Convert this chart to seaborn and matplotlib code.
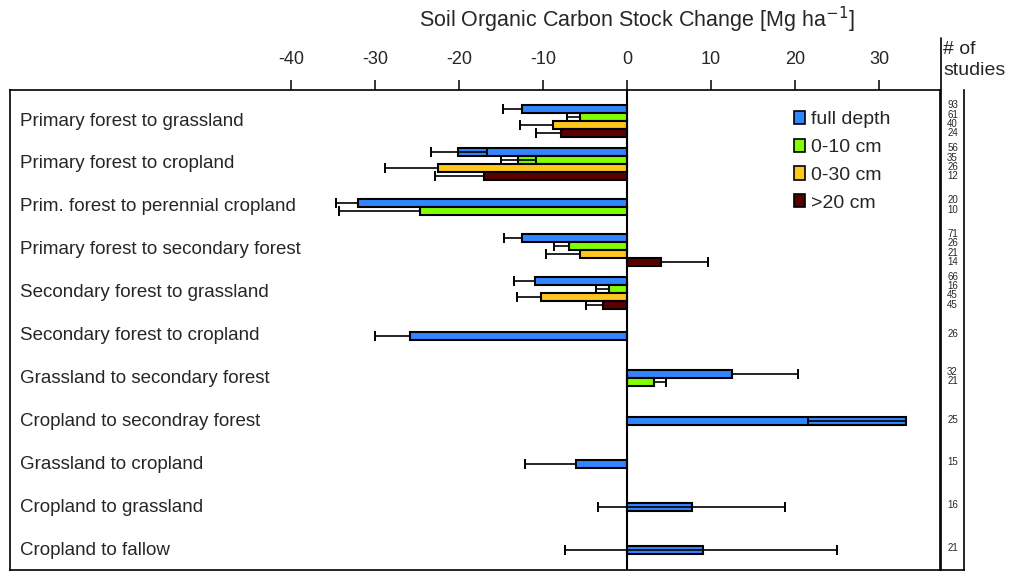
import numpy as np
import pandas as pd
import matplotlib
matplotlib.use("Agg")
import matplotlib.pyplot as plt
from matplotlib.patches import Patch
from matplotlib.lines import Line2D
from matplotlib.transforms import blended_transform_factory
import seaborn as sns

nan = np.nan

categories = ["Primary forest to grassland", "Primary forest to cropland",
              "Prim. forest to perennial cropland", "Primary forest to secondary forest",
              "Secondary forest to grassland", "Secondary forest to cropland",
              "Grassland to secondary forest", "Cropland to secondray forest",
              "Grassland to cropland", "Cropland to grassland", "Cropland to fallow"]
depths = ["full depth", "0-10 cm", "0-30 cm", ">20 cm"]
colors = ["#3385FF", "#80FF00", "#FFC61E", "#5A0000"]

# stock change [Mg ha-1]
full_depth = [-12.5, -20.1, -32.0, -12.5, -11.0, -25.8, 12.5, 33.2, -6.1, 7.7, 9.0]
cm_0_10 = [-5.6, -13.0, -24.7, -6.9, -2.1, nan, 3.2, nan, nan, nan, nan]
cm_0_30 = [-8.8, -22.5, nan, -5.6, -10.2, nan, nan, nan, nan, nan, nan]
cm_gt_20 = [-7.8, -17.0, nan, 4.0, -2.9, nan, nan, nan, nan, nan, nan]

# error bar extents (towards negative / towards positive)
full_lo = [2.3, 3.2, 2.6, 2.1, 2.5, 4.2, 0, 11.7, 6.0, 11.2, 16.4]
full_hi = [0, 3.4, 0, 0, 0, 0, 7.8, 0, 0, 11.1, 16.0]
cm_0_10_lo = [1.5, 2.0, 9.6, 1.8, 1.6, nan, 0, nan, nan, nan, nan]
cm_0_10_hi = [0, 2.2, 0, 0, 0, nan, 1.5, nan, nan, nan, nan]
cm_0_30_lo = [3.9, 6.3, nan, 4.0, 2.9, nan, nan, nan, nan, nan, nan]
cm_0_30_hi = [0, 0, nan, 0, 0, nan, nan, nan, nan, nan, nan]
cm_gt_20_lo = [3.0, 5.8, nan, 0, 2.0, nan, nan, nan, nan, nan, nan]
cm_gt_20_hi = [0, 0, nan, 5.6, 0, nan, nan, nan, nan, nan, nan]

# number of studies
n_full = [93, 56, 20, 71, 66, 26, 32, 25, 15, 16, 21]
n_0_10 = [61, 35, 10, 26, 16, nan, 21, nan, nan, nan, nan]
n_0_30 = [40, 26, nan, 21, 45, nan, nan, nan, nan, nan, nan]
n_gt_20 = [24, 12, nan, 14, 45, nan, nan, nan, nan, nan, nan]

values = [full_depth, cm_0_10, cm_0_30, cm_gt_20]
err_lo = [full_lo, cm_0_10_lo, cm_0_30_lo, cm_gt_20_lo]
err_hi = [full_hi, cm_0_10_hi, cm_0_30_hi, cm_gt_20_hi]
counts = [n_full, n_0_10, n_0_30, n_gt_20]

bar_h = 0.1865
rows = []
for i, cat in enumerate(categories):
    present = [k for k in range(4) if not np.isnan(values[k][i])]
    for j, k in enumerate(present):
        off = j - (len(present) - 1) / 2
        rows.append(dict(category=cat, depth=depths[k], value=values[k][i],
                         lo=err_lo[k][i], hi=err_hi[k][i], n=int(counts[k][i]),
                         pos=round(i + off * bar_h, 5),
                         npos=i + off * bar_h * 1.15 - 0.04))
df = pd.DataFrame(rows)

sns.set_style("white")
plt.rcParams["font.family"] = ["Liberation Sans", "DejaVu Sans"]
plt.rcParams["axes.unicode_minus"] = False

fig = plt.figure(figsize=(10.16, 5.72), dpi=100)
ax = fig.add_axes([10 / 1016, 2 / 572, 930 / 1016, 480 / 572])

sns.barplot(data=df, x="value", y="pos", hue="depth", hue_order=depths,
            palette=dict(zip(depths, colors)), orient="y", native_scale=True,
            dodge=False, width=1.0, edgecolor="black", linewidth=1.5,
            saturation=1, errorbar=None, legend=False, ax=ax, zorder=2)

# error bars, drawn only on the sides that have an extent
lo = df[df.lo > 0]
hi = df[df.hi > 0]
ax.hlines(lo.pos, lo.value - lo.lo, lo.value, color="black", lw=1.2, zorder=3)
ax.plot(lo.value - lo.lo, lo.pos, ls="none", marker="|", ms=7.7, mew=1.4, color="black", zorder=3)
ax.hlines(hi.pos, hi.value, hi.value + hi.hi, color="black", lw=1.2, zorder=3)
ax.plot(hi.value + hi.hi, hi.pos, ls="none", marker="|", ms=7.7, mew=1.4, color="black", zorder=3)

ax.axvline(0, color="black", lw=1.5, zorder=4)

ax.set_xlim(-73.45, 37.26)
ylim = (10.466, -0.723)
ax.set_ylim(*ylim)
ax.set_xlabel("")
ax.set_ylabel("")
ax.set_yticks([])
ax.set_xticks(range(-40, 31, 10))
ax.tick_params(axis="x", top=True, bottom=False, labeltop=True, labelbottom=False,
               direction="out", length=7, width=1.1, pad=9, labelsize=13, color="black")
for s in ax.spines.values():
    s.set_color("black")
    s.set_linewidth(1.2)

label_tr = blended_transform_factory(ax.transAxes, ax.transData)
for i, cat in enumerate(categories):
    ax.text(0.011, i, cat, transform=label_tr, ha="left", va="center", fontsize=13.5)

handles = [Patch(facecolor=c, edgecolor="black", linewidth=1.2) for c in colors]
fig.legend(handles, depths, loc="upper left", bbox_to_anchor=(794 / 1016, 1 - 111 / 572),
           frameon=False, fontsize=14, handlelength=0.57, handleheight=0.67,
           handletextpad=0.3, labelspacing=0.53, borderpad=0, borderaxespad=0)

# column with number of studies
ax_n = fig.add_axes([941 / 1016, 2 / 572, 23 / 1016, 480 / 572])
ax_n.set_xlim(0, 1)
ax_n.set_ylim(*ylim)
ax_n.set_xticks([])
ax_n.set_yticks([])
ax_n.spines["top"].set_visible(False)
for s in ["left", "right", "bottom"]:
    ax_n.spines[s].set_color("black")
    ax_n.spines[s].set_linewidth(1.2)
for _, r in df.iterrows():
    ax_n.text(0.5, r.npos, str(r.n), ha="center", va="center", fontsize=7)

fig.add_artist(Line2D([940.5 / 1016, 940.5 / 1016], [1 - 38 / 572, 1 - 90 / 572],
                      color="black", lw=1.2, transform=fig.transFigure))
fig.text(943 / 1016, 1 - 60 / 572, "# of\nstudies", ha="left", va="center",
         fontsize=14, linespacing=1.35)
fig.text(637 / 1016, 1 - 20 / 572, "Soil Organic Carbon Stock Change [Mg ha$^{-1}$]",
         ha="center", va="center", fontsize=15.5)

fig.savefig("out.png", dpi=100)
